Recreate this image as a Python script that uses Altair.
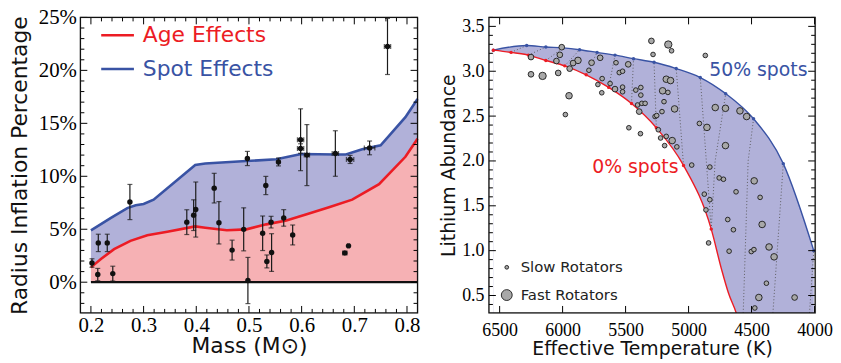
import altair as alt
import pandas as pd

# ---------------- left panel data ----------------
spot_mass = [0.200, 0.238, 0.269, 0.285, 0.300, 0.319, 0.398, 0.417, 0.495, 0.552, 0.599, 0.665, 0.684, 0.715, 0.750, 0.797, 0.820]
spot_inf = [4.90, 6.07, 7.00, 7.26, 7.38, 7.79, 11.06, 11.20, 11.44, 11.60, 12.10, 12.06, 12.06, 12.56, 12.93, 15.58, 17.30]
age_mass = [0.200, 0.219, 0.244, 0.275, 0.307, 0.345, 0.398, 0.417, 0.458, 0.495, 0.533, 0.571, 0.608, 0.652, 0.696, 0.747, 0.797, 0.820]
age_inf = [1.40, 2.19, 3.12, 3.90, 4.43, 4.77, 5.27, 5.14, 4.90, 4.99, 5.46, 5.83, 6.39, 7.07, 7.79, 9.25, 11.84, 13.55]

obs_mass = [0.202, 0.214, 0.213, 0.231, 0.2415, 0.274, 0.382, 0.395, 0.399, 0.434, 0.443, 0.468, 0.490, 0.497, 0.498, 0.526,
            0.532, 0.534, 0.542, 0.543, 0.556, 0.566, 0.583, 0.598, 0.598, 0.610, 0.664, 0.682, 0.689, 0.692, 0.729, 0.763]
obs_inf = [1.81, 3.71, 0.72, 3.71, 0.81, 7.57, 5.67, 6.33, 6.86, 8.88, 5.61, 3.03, 4.99, 11.68, 0.16, 4.62,
           9.13, 1.96, 5.67, 2.80, 11.35, 6.07, 4.46, 13.45, 12.62, 12.00, 12.15, 2.75, 3.43, 11.59, 12.68, 22.26]
obs_err = [0.40, 0.82, 0.58, 0.82, 0.70, 1.66, 1.17, 1.45, 2.60, 1.40, 2.00, 0.94, 2.03, 0.67, 2.18, 1.63,
           0.86, 0.61, 0.55, 1.78, 0.37, 0.78, 0.94, 2.92, 0.45, 2.88, 2.15, 0.0, 0.0, 0.38, 0.65, 2.65]
obs_merr = [0, 0, 0, 0, 0, 0, 0, 0, 0, 0, 0, 0, 0, 0, 0, 0,
            0, 0, 0, 0, 0, 0, 0, 0.006, 0.006, 0.005, 0.006, 0.004, 0.002, 0.007, 0.010, 0.006]

left_x_major = [0.2, 0.3, 0.4, 0.5, 0.6, 0.7, 0.8]
left_x_minor = [0.22, 0.24, 0.26, 0.28, 0.32, 0.34, 0.36, 0.38, 0.42, 0.44, 0.46, 0.48, 0.52, 0.54, 0.56, 0.58,
                0.62, 0.64, 0.66, 0.68, 0.72, 0.74, 0.76, 0.78]
left_y_major = [0, 5, 10, 15, 20, 25]
left_y_minor = [-2, -1, 1, 2, 3, 4, 6, 7, 8, 9, 11, 12, 13, 14, 16, 17, 18, 19, 21, 22, 23, 24]
left_legend_labels = ["Age Effects", "Spot Effects"]

# ---------------- right panel data ----------------
spot50_T = [6550, 6285, 6133, 5996, 5865, 5726, 5584, 5437, 5274, 5098, 4907, 4705, 4484, 4248, 4006]
spot50_Li = [3.235, 3.287, 3.27, 3.26, 3.24, 3.21, 3.18, 3.14, 3.10, 3.03, 2.93, 2.75, 2.47, 1.97, 1.00]
spot0_T = [6550, 6409, 6272, 6133, 5983, 5813, 5634, 5453, 5256, 5040, 4820, 4736, 4684, 4618, 4590]
spot0_Li = [3.235, 3.21, 3.18, 3.12, 3.06, 2.96, 2.82, 2.64, 2.37, 1.95, 1.24, 0.78, 0.53, 0.29, 0.15]
spot0_marker = [1, 1, 1, 1, 1, 1, 1, 1, 1, 1, 1, 0, 0, 0, 0]

track_id = [1, 1, 2, 2, 3, 3, 4, 4, 5, 5, 6, 6, 7, 7, 8, 8, 9, 9, 10, 10, 11, 11, 11,
            12, 12, 12, 12, 13, 13, 13, 14, 14]
track_T = [6285, 6409, 6133, 6272, 5996, 6133, 5865, 5983, 5726, 5813, 5584, 5634, 5437, 5453, 5274, 5256,
           5098, 5040, 4907, 4820, 4705, 4789, 4820,
           4484, 4527, 4566, 4575, 4248, 4330, 4335, 4006, 4045]
track_Li = [3.287, 3.21, 3.27, 3.18, 3.26, 3.12, 3.24, 3.06, 3.21, 2.96, 3.18, 2.82, 3.14, 2.64, 3.10, 2.37,
            3.03, 1.95, 2.93, 1.24, 2.75, 2.00, 1.24,
            2.47, 2.00, 0.31, 0.20, 1.97, 0.31, 0.20, 1.00, 0.20]

star_T = [6251, 6251, 6159, 6035, 6007, 6022, 6049, 5944, 5949, 5978, 5878, 5917, 5770, 5791, 5702, 5720, 5689,
          5686, 5623, 5584, 5576, 5550, 5524, 5524, 5524, 5479, 5474, 5419, 5405, 5392, 5379, 5379, 5371, 5345,
          5382, 5295, 5282, 5161, 5135, 5177, 5143, 5206, 5164, 5195, 5211, 5266, 5253, 5240, 5222, 5177, 5190,
          5130, 5093, 5111, 4867, 4975, 4914, 4854, 4831, 4875, 4831, 4862, 4841, 4788, 4707, 4707, 4757, 4723,
          4623, 4689, 4644, 4678, 4592, 4539, 4479, 4432, 4416, 4502, 4481, 4361, 4321, 4382, 4442, 4474, 4158]
star_Li = [3.158, 2.966, 2.948, 2.981, 3.268, 3.183, 3.114, 3.029, 2.727, 2.517, 3.121, 3.091, 3.095, 3.011, 3.150,
           2.852, 2.760, 2.918, 2.863, 2.801, 3.095, 2.985, 3.000, 2.823, 2.771, 3.077, 2.370, 2.790, 2.624, 2.550,
           2.819, 2.734, 2.642, 2.642, 2.304, 3.338, 3.187, 3.298, 3.228, 2.911, 2.896, 2.782, 2.764, 2.661, 2.550,
           2.495, 2.506, 2.348, 2.256, 2.274, 2.171, 2.227, 2.157, 2.580, 3.176, 1.954, 2.418, 2.374, 1.932, 1.630,
           1.568, 1.454, 1.086, 2.595, 2.587, 2.171, 1.811, 1.796, 1.656, 1.347, 1.233, 0.994, 2.558, 2.495, 1.778,
           1.594, 1.292, 0.990, 1.012, 1.041, 0.931, 0.637, 0.478, 0.361, 0.478]
star_cls = ["m", "m", "xl", "m", "m", "m", "m", "m", "l", "s", "l", "m", "m", "s", "m", "s", "s",
            "s", "s", "m", "s", "s", "s", "s", "s", "m", "s", "s", "s", "m", "s", "s", "s", "s",
            "s", "m", "s", "xl", "s", "l", "l", "l", "s", "s", "s", "s", "s", "s", "s", "s", "s",
            "l", "s", "l", "s", "s", "s", "l", "s", "s", "s", "s", "s", "l", "l", "l", "s", "s",
            "s", "s", "s", "s", "l", "l", "l", "s", "l", "s", "s", "l", "l", "s", "l", "s", "m"]

right_x_major = [6500, 6000, 5500, 5000, 4500, 4000]
right_y_major = [0.5, 1.0, 1.5, 2.0, 2.5, 3.0, 3.5]
right_y_minor = [0.4, 0.6, 0.7, 0.8, 0.9, 1.1, 1.2, 1.3, 1.4, 1.6, 1.7, 1.8, 1.9, 2.1, 2.2, 2.3, 2.4,
                 2.6, 2.7, 2.8, 2.9, 3.1, 3.2, 3.3, 3.4, 3.6]
annot_text = ["50% spots", "0% spots"]
annot_T = [4836, 5080]
annot_Li = [3.01, 1.93]
rot_legend_labels = ["Slow Rotators", "Fast Rotators"]

# ---------------- styling ----------------
RED = "#ec1c24"
BLUE = "#3953a4"
LAV = "#b1b1d9"
PINK = "#f6b1b4"
GREY = "#a8a8a8"
SERIF = "Liberation Serif"
SANS = "DejaVu Sans"

LW, LH = 340, 298
RW, RH = 329, 298
SIZE_RANGE = [22, 55, 135, 165]

lx_scale = alt.Scale(domain=[0.18, 0.82], nice=False, zero=False)
ly_scale = alt.Scale(domain=[-2.9, 25], nice=False, zero=False)
lx_axis = alt.Axis(values=left_x_major, format=".1f", labelFont=SERIF, labelFontSize=21, labelColor="black",
                   ticks=False, domain=False, grid=False, labelPadding=2, labelFlush=False, title="Mass (M⊙)",
                   titleFont=SANS, titleFontSize=22, titleFontWeight="normal", titleColor="#111",
                   titlePadding=0)
ly_axis = alt.Axis(values=left_y_major, labelExpr="datum.value + '%'", labelFont=SERIF, labelFontSize=21,
                   labelColor="black", ticks=False, domain=False, grid=False, labelPadding=4, labelFlush=False,
                   title="Radius Inflation Percentage", titleFont=SANS, titleFontSize=22,
                   titleFontWeight="normal", titleColor="#111", titlePadding=7)


def LX(f, t="Q"):
    return alt.X(f"{f}:{t}", scale=lx_scale, axis=lx_axis)


def LY(f, t="Q"):
    return alt.Y(f"{f}:{t}", scale=ly_scale, axis=ly_axis)


rx_scale = alt.Scale(domain=[6585, 3995], nice=False, zero=False)
ry_scale = alt.Scale(domain=[0.306, 3.6], nice=False, zero=False)
rx_axis = alt.Axis(values=right_x_major, format="d", labelFont=SERIF, labelFontSize=18, labelColor="black",
                   ticks=False, domain=False, grid=False, labelPadding=9, labelFlush=False,
                   title="Effective Temperature (K)",
                   titleFont=SANS, titleFontSize=19, titleFontWeight="normal", titleColor="#111",
                   titlePadding=0)
ry_axis = alt.Axis(values=right_y_major, format=".1f", labelFont=SERIF, labelFontSize=18, labelColor="black",
                   ticks=False, domain=False, grid=False, labelPadding=5, labelFlush=False,
                   title="Lithium Abundance",
                   titleFont=SANS, titleFontSize=19, titleFontWeight="normal", titleColor="#111", titlePadding=3)


def RX(f, t="Q"):
    return alt.X(f"{f}:{t}", scale=rx_scale, axis=rx_axis)


def RY(f, t="Q"):
    return alt.Y(f"{f}:{t}", scale=ry_scale, axis=ry_axis)


def tick_layers(Xf, Yf, xmaj, xmin, ymaj, ymin, W, H):
    layers = []
    for vals, L in ((ymaj, 7), (ymin, 4)):
        if not vals:
            continue
        d = pd.DataFrame({"v": vals})
        base = alt.Chart(d).mark_rule(color="black", strokeWidth=1)
        layers.append(base.encode(y=Yf("v"), x=alt.value(0), x2=alt.value(L)))
        layers.append(base.encode(y=Yf("v"), x=alt.value(W), x2=alt.value(W - L)))
    for vals, L in ((xmaj, 7), (xmin, 4)):
        if not vals:
            continue
        d = pd.DataFrame({"v": vals})
        base = alt.Chart(d).mark_rule(color="black", strokeWidth=1)
        layers.append(base.encode(x=Xf("v"), y=alt.value(H), y2=alt.value(H - L)))
        layers.append(base.encode(x=Xf("v"), y=alt.value(0), y2=alt.value(L)))
    return layers


def frame(W, H):
    return alt.Chart(pd.DataFrame({"a": [0]})).mark_rect(
        fill="transparent", stroke="#111", strokeWidth=1.3
    ).encode(x=alt.value(0), x2=alt.value(W), y=alt.value(0), y2=alt.value(H))


# ---------------- left panel ----------------
spot_df = pd.DataFrame({"mass": spot_mass, "inf": spot_inf})
age_df = pd.DataFrame({"mass": age_mass, "inf": age_inf})
obs = pd.DataFrame({"mass": obs_mass, "inf": obs_inf, "err": obs_err, "merr": obs_merr})
obs["lo"] = obs["inf"] - obs["err"]
obs["hi"] = obs["inf"] + obs["err"]
obs["mlo"] = obs["mass"] - obs["merr"]
obs["mhi"] = obs["mass"] + obs["merr"]
obs_y = obs[obs["err"] > 0]
obs_x = obs[obs["merr"] > 0]
zero_df = pd.DataFrame({"m0": [0.2], "m1": [0.82], "v": [0]})

blue_area = alt.Chart(spot_df).mark_area(color=LAV, opacity=1).encode(x=LX("mass"), y=LY("inf"), y2=alt.datum(0))
red_area = alt.Chart(age_df).mark_area(color=PINK, opacity=1).encode(x=LX("mass"), y=LY("inf"), y2=alt.datum(0))
zero_line = alt.Chart(zero_df).mark_rule(color="#111", strokeWidth=2.2).encode(
    x=LX("m0"), x2=alt.X2("m1"), y=LY("v"))
blue_line = alt.Chart(spot_df).mark_line(color=BLUE, strokeWidth=2.6).encode(x=LX("mass"), y=LY("inf"))
red_line = alt.Chart(age_df).mark_line(color=RED, strokeWidth=2.6).encode(x=LX("mass"), y=LY("inf"))

ebar_v = alt.Chart(obs_y).mark_rule(color="#1a1a1a", strokeWidth=1.2).encode(
    x=LX("mass"), y=LY("lo"), y2=alt.Y2("hi"))
cap_lo = alt.Chart(obs_y).mark_tick(color="#1a1a1a", orient="horizontal", size=5, thickness=1.2).encode(
    x=LX("mass"), y=LY("lo"))
cap_hi = alt.Chart(obs_y).mark_tick(color="#1a1a1a", orient="horizontal", size=5, thickness=1.2).encode(
    x=LX("mass"), y=LY("hi"))
ebar_h = alt.Chart(obs_x).mark_rule(color="#1a1a1a", strokeWidth=1.2).encode(
    x=LX("mlo"), x2=alt.X2("mhi"), y=LY("inf"))
cap_l = alt.Chart(obs_x).mark_tick(color="#1a1a1a", orient="vertical", size=5, thickness=1.2).encode(
    x=LX("mlo"), y=LY("inf"))
cap_r = alt.Chart(obs_x).mark_tick(color="#1a1a1a", orient="vertical", size=5, thickness=1.2).encode(
    x=LX("mhi"), y=LY("inf"))
obs_pts = alt.Chart(obs).mark_circle(color="#111", size=30, opacity=1).encode(x=LX("mass"), y=LY("inf"))

leg_layers = []
for i, (lab, col) in enumerate(zip(left_legend_labels, [RED, BLUE])):
    d = pd.DataFrame({"t": [lab]})
    yy = 18 + 34 * i
    leg_layers.append(alt.Chart(d).mark_rule(color=col, strokeWidth=2.6).encode(
        x=alt.value(21), x2=alt.value(54), y=alt.value(yy)))
    leg_layers.append(alt.Chart(d).mark_text(align="left", baseline="middle", font=SANS, fontSize=22,
                                             color=col).encode(x=alt.value(63), y=alt.value(yy), text="t:N"))

left = alt.layer(
    blue_area, red_area, zero_line, blue_line, red_line,
    ebar_v, cap_lo, cap_hi, ebar_h, cap_l, cap_r, obs_pts,
    *leg_layers,
    *tick_layers(LX, LY, left_x_major, left_x_minor, left_y_major, left_y_minor, LW, LH),
    frame(LW, LH),
).properties(width=LW, height=LH)

# ---------------- right panel ----------------
s50 = pd.DataFrame({"T": spot50_T, "Li": spot50_Li})
s0 = pd.DataFrame({"T": spot0_T, "Li": spot0_Li, "mk": spot0_marker})
s0_mk = s0[s0["mk"] == 1]
tracks = pd.DataFrame({"trk": track_id, "T": track_T, "Li": track_Li})
stars = pd.DataFrame({"T": star_T, "Li": star_Li, "cls": star_cls})
ann = pd.DataFrame({"t": annot_text, "T": annot_T, "Li": annot_Li})

band = alt.Chart(s50).mark_area(color=LAV, opacity=1, clip=True, interpolate="monotone").encode(
    x=RX("T"), y=RY("Li"), y2=alt.datum(0))
mask = alt.Chart(s0).mark_area(color="white", opacity=1, clip=True, interpolate="monotone").encode(
    x=RX("T"), y=RY("Li"), y2=alt.datum(0))
trk = alt.Chart(tracks).mark_line(color="#555", strokeWidth=0.9, strokeDash=[1, 2.2], clip=True).encode(
    x=RX("T"), y=RY("Li"), detail="trk:N", order="Li:Q")
l50 = alt.Chart(s50).mark_line(color=BLUE, strokeWidth=1.4, clip=True, interpolate="monotone").encode(
    x=RX("T"), y=RY("Li"))
l0 = alt.Chart(s0).mark_line(color=RED, strokeWidth=1.4, clip=True, interpolate="monotone").encode(
    x=RX("T"), y=RY("Li"))
p50 = alt.Chart(s50).mark_circle(color=BLUE, size=12, opacity=1).encode(x=RX("T"), y=RY("Li"))
p0 = alt.Chart(s0_mk).mark_circle(color=RED, size=12, opacity=1).encode(x=RX("T"), y=RY("Li"))
star_pts = alt.Chart(stars).mark_point(filled=True, fill=GREY, stroke="#1a1a1a", strokeWidth=0.9,
                                       opacity=1, shape="circle").encode(
    x=RX("T"), y=RY("Li"),
    size=alt.Size("cls:N", scale=alt.Scale(domain=["s", "m", "l", "xl"], range=SIZE_RANGE), legend=None))
ann_50 = alt.Chart(ann.iloc[[0]]).mark_text(align="left", baseline="middle", font=SANS, fontSize=19,
                                            color=BLUE).encode(x=RX("T"), y=RY("Li"), text="t:N")
ann_0 = alt.Chart(ann.iloc[[1]]).mark_text(align="right", baseline="middle", font=SANS, fontSize=19,
                                           color=RED).encode(x=RX("T"), y=RY("Li"), text="t:N")

rot_layers = []
for i, (lab, sz) in enumerate(zip(rot_legend_labels, [14, 120])):
    d = pd.DataFrame({"t": [lab]})
    yy = 252 + 28 * i
    rot_layers.append(alt.Chart(d).mark_point(filled=True, fill=GREY, stroke="#1a1a1a", strokeWidth=0.9,
                                              opacity=1, shape="circle").encode(
        x=alt.value(18), y=alt.value(yy), size=alt.value(sz)))
    rot_layers.append(alt.Chart(d).mark_text(align="left", baseline="middle", font=SANS, fontSize=15,
                                             color="#222").encode(x=alt.value(32), y=alt.value(yy), text="t:N"))

right = alt.layer(
    band, mask, trk, l50, l0, p50, p0, star_pts, ann_50, ann_0, *rot_layers,
    *tick_layers(RX, RY, right_x_major, [], right_y_major, right_y_minor, RW, RH),
    frame(RW, RH),
).properties(width=RW, height=RH)

chart = alt.hconcat(left, right, spacing=72, bounds="flush").properties(
    padding={"left": 0, "top": -4, "right": 0, "bottom": 0}
).configure_view(stroke="transparent").configure(font=SANS)

chart.save("out.html", embed_options={"renderer": "svg", "actions": False})
